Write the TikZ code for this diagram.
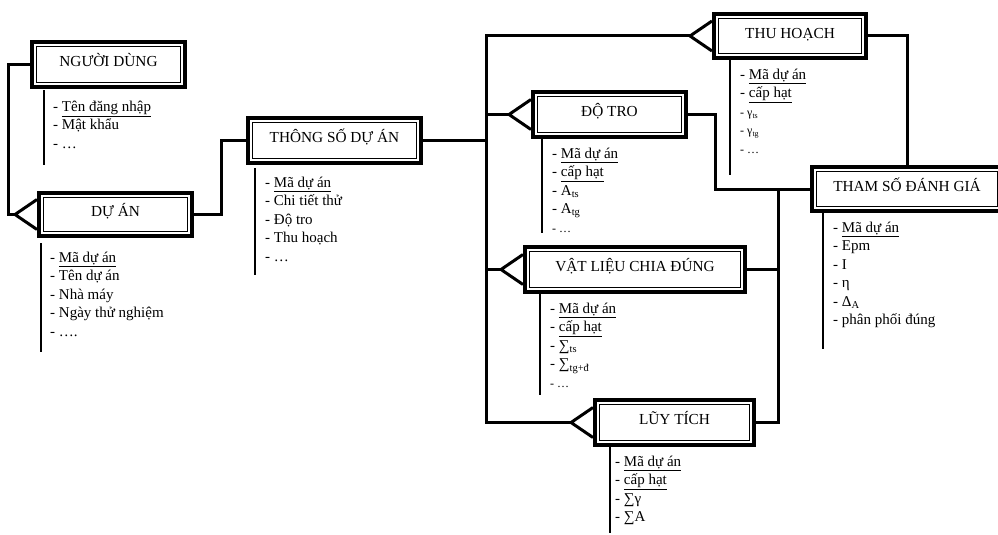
\documentclass[tikz,border=0pt]{standalone}
\usepackage{fontspec}
\setmainfont{Liberation Serif}
\usetikzlibrary{calc, positioning}

\newcommand{\firstline}{\rule{0pt}{19pt}}
\newcommand{\smallitem}{\fontsize{12}{14}\selectfont}

\begin{document}
\begin{tikzpicture}[x=1pt, y=-1pt,
    entity/.style={draw, line width=4pt, inner sep=2pt,
        minimum height=45pt, text height=9.5pt, text depth=5.5pt,
        font=\fontsize{15.3}{18}\selectfont,
        path picture={\draw[line width=1.2pt]
            ([shift={(4.5pt,-4.5pt)}]path picture bounding box.north west) rectangle
            ([shift={(-4.5pt,4.5pt)}]path picture bounding box.south east);}},
    attrs/.style={anchor=north west, align=left, inner xsep=9pt, inner ysep=0pt,
        font=\fontsize{15}{18.5}\selectfont},
    link/.style={line width=3pt},
    attrline/.style={line width=2pt}]
\useasboundingbox (0,0) rectangle (998,535);

% entities
\node[entity, minimum width=153pt] (nd) at (108.5,64.5) {NGƯỜI DÙNG};
\node[entity, minimum width=153pt, minimum height=43pt] (da) at (115.5,214.5) {DỰ ÁN};
\node[entity, minimum width=173pt] (ts) at (334.5,140.5) {THÔNG SỐ DỰ ÁN};
\node[entity, minimum width=153pt] (dt) at (609.5,114.5) {ĐỘ TRO};
\node[entity, minimum width=152pt, minimum height=44pt] (th) at (790,36) {THU HOẠCH};
\node[entity, minimum width=190pt, minimum height=44pt] (tsdg) at (907,189) {THAM SỐ ĐÁNH GIÁ};
\node[entity, minimum width=220pt] (vl) at (635,269.5) {VẬT LIỆU CHIA ĐÚNG};
\node[entity, minimum width=159pt] (lt) at (674.5,422.5) {LŨY TÍCH};

% attribute lists
\node[attrs] (ndl) at (44,90) {\rule{0pt}{21pt}- \underline{Tên đăng nhập}\\- Mật khẩu\\- …};
\draw[attrline] (ndl.north west) -- ++(0,75);

\node[attrs] (dal) at (41,243) {\firstline- \underline{Mã dự án}\\- Tên dự án\\- Nhà máy\\- Ngày thử nghiệm\\- ….};
\draw[attrline] (dal.north west) -- ++(0,109);

\node[attrs, inner xsep=10pt] (tsl) at (255,168) {\firstline- \underline{Mã dự án}\\- Chi tiết thử\\- Độ tro\\- Thu hoạch\\- …};
\draw[attrline] (tsl.north west) -- ++(0,107);

\node[attrs, inner xsep=10pt] (dtl) at (542,139) {\firstline- \underline{Mã dự án}\\- \underline{cấp hạt}\\- A\textsubscript{ts}\\- A\textsubscript{tg}\\{\smallitem - …}};
\draw[attrline] (dtl.north west) -- ++(0,94);

\node[attrs, inner xsep=10pt] (thl) at (730,60) {\firstline- \underline{Mã dự án}\\- \underline{cấp hạt}\\{\smallitem - γ\textsubscript{ts}}\\{\smallitem - γ\textsubscript{tg}}\\{\smallitem - …}};
\draw[attrline] (thl.north west) -- ++(0,115);

\node[attrs, inner xsep=10pt] (tsdgl) at (823,213) {\firstline- \underline{Mã dự án}\\- Epm\\- I\\- η\\- Δ\textsubscript{A}\\- phân phối đúng};
\draw[attrline] (tsdgl.north west) -- ++(0,136);

\node[attrs, inner xsep=10pt] (vll) at (540,294) {\firstline- \underline{Mã dự án}\\- \underline{cấp hạt}\\- ∑\textsubscript{ts}\\- ∑\textsubscript{tg+đ}\\{\smallitem - …}};
\draw[attrline] (vll.north west) -- ++(0,101);

\node[attrs, inner xsep=5pt] (ltl) at (610,447) {\firstline- \underline{Mã dự án}\\- \underline{cấp hạt}\\- ∑γ\\- ∑A};
\draw[attrline] (ltl.north west) -- ++(0,86);

% crow's feet
\foreach \e in {da,dt,th,vl,lt}
    \draw[link] ([yshift=15pt]\e.west) -- ([xshift=-22pt]\e.west) -- ([yshift=-15pt]\e.west);

% relationships
\coordinate (trunk) at (486,0);
\coordinate (rtrunk) at (778,0);

\draw[link] (nd.west) -- ++(-22,0) |- ([xshift=-22pt]da.west);
\draw[link] (da.east) -- ++(27,0) |- (ts.west);
\draw[link] (ts.east) -- (ts.east -| trunk);
\draw[link] ([xshift=-22pt]th.west) -| (trunk |- lt.west) -- ([xshift=-22pt]lt.west);
\draw[link] (trunk |- dt.west) -- ([xshift=-22pt]dt.west);
\draw[link] (trunk |- vl.west) -- ([xshift=-22pt]vl.west);
\draw[link] (dt.east) -- ++(27,0) |- (tsdg.west);
\draw[link] (th.east) -| (tsdg.north);
\draw[link] (vl.east) -- (vl.east -| rtrunk);
\draw[link] (tsdg.west -| rtrunk) -- (lt.east -| rtrunk) -- (lt.east);
\end{tikzpicture}
\end{document}
